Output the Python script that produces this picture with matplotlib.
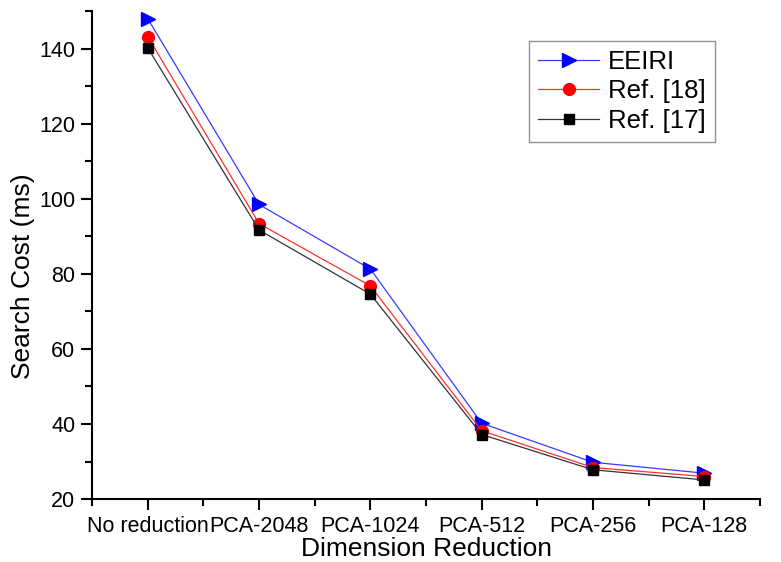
import matplotlib
matplotlib.use("Agg")
import matplotlib.pyplot as plt
from matplotlib.ticker import MultipleLocator

plt.rcParams['font.family'] = ['Liberation Sans', 'DejaVu Sans']

categories = ["No reduction", "PCA-2048", "PCA-1024", "PCA-512", "PCA-256", "PCA-128"]
eeiri = [148.0, 98.5, 81.3, 40.2, 29.8, 26.9]
ref18 = [143.2, 93.4, 76.8, 38.2, 28.4, 26.0]
ref17 = [140.2, 91.7, 74.6, 37.2, 27.8, 25.1]

fig = plt.figure(figsize=(7.81, 5.62), dpi=100)
ax = fig.add_axes([0.118, 0.112, 0.855, 0.868])
x = list(range(len(categories)))

ax.plot(x, eeiri, color='#3a3aff', lw=0.9, marker='>', ms=10, mfc='#0000ff', mec='#0000ff', label='EEIRI')
ax.plot(x, ref18, color='#ff3030', lw=0.9, marker='o', ms=8.5, mfc='#ff0000', mec='#ff0000', label='Ref. [18]')
ax.plot(x, ref17, color='#333333', lw=0.9, marker='s', ms=7.5, mfc='#000000', mec='#000000', label='Ref. [17]')

ax.set_xlim(-0.5, 5.5)
ax.set_ylim(20, 150)
ax.set_xticks(x)
ax.set_xticklabels(categories)
ax.xaxis.set_minor_locator(MultipleLocator(0.5))
ax.yaxis.set_major_locator(MultipleLocator(20))
ax.yaxis.set_minor_locator(MultipleLocator(10))
ax.tick_params(which='major', direction='out', length=8, width=1.5, labelsize=15.5, pad=4)
ax.tick_params(which='minor', direction='out', length=5, width=1.5)

for s in ['top', 'right']:
    ax.spines[s].set_visible(False)
for s in ['left', 'bottom']:
    ax.spines[s].set_linewidth(1.5)

ax.set_xlabel('Dimension Reduction', fontsize=19, labelpad=0)
ax.set_ylabel('Search Cost (ms)', fontsize=19)
ax.yaxis.set_label_coords(-0.086, 0.457)

leg = ax.legend(loc='upper right', bbox_to_anchor=(0.932, 0.94), fontsize=18.5, frameon=True,
                fancybox=False, edgecolor='#777777', handlelength=2.35, borderpad=0.35,
                labelspacing=0.22, handletextpad=0.35, borderaxespad=0)
leg.get_frame().set_linewidth(1.0)

fig.savefig('out.png', dpi=100)
